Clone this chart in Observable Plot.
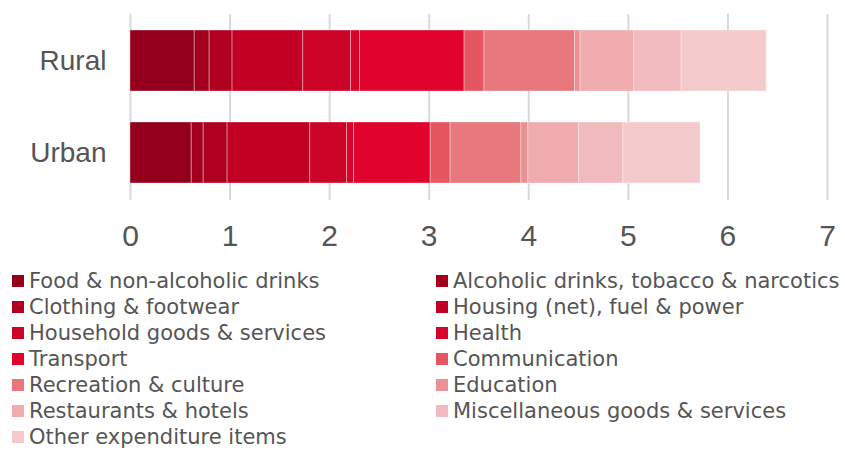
<!DOCTYPE html>
<html>
<head>
<meta charset="utf-8">
<script src="https://cdn.jsdelivr.net/npm/d3@7"></script>
<script src="https://cdn.jsdelivr.net/npm/@observablehq/plot@0.6"></script>
<style>
  html, body { margin: 0; padding: 0; background: #fff; }
  body { width: 845px; height: 450px; overflow: hidden; font-family: "Liberation Sans", Arial, sans-serif; }
  #legend { display: grid; grid-template-columns: 424px 421px; padding-top: 8px; }
  .item { display: flex; align-items: center; height: 26px; line-height: 24px; font-family: "DejaVu Sans", sans-serif; font-size: 21px; color: #555; white-space: nowrap; }
  .item .sw { width: 12px; height: 12px; margin-left: 12px; margin-right: 5px; flex: none; }
</style>
</head>
<body>
<div id="chart"></div>
<div id="legend"></div>
<script>
const areas = ["Rural", "Urban"];
const categories = [
  "Food & non-alcoholic drinks",
  "Alcoholic drinks, tobacco & narcotics",
  "Clothing & footwear",
  "Housing (net), fuel & power",
  "Household goods & services",
  "Health",
  "Transport",
  "Communication",
  "Recreation & culture",
  "Education",
  "Restaurants & hotels",
  "Miscellaneous goods & services",
  "Other expenditure items"
];
const ruralValues = [0.645, 0.15, 0.23, 0.71, 0.48, 0.09, 1.05, 0.20, 0.91, 0.055, 0.54, 0.475, 0.855];
const urbanValues = [0.615, 0.12, 0.24, 0.83, 0.37, 0.07, 0.77, 0.20, 0.71, 0.07, 0.51, 0.445, 0.775];
const colors = ["#94001b", "#a2001e", "#b0001f", "#c20023", "#cc0428", "#d7032a", "#e2032c",
                "#e55661", "#e9787d", "#eb9195", "#efabad", "#f1babe", "#f4cacc"];
const xTicks = [0, 1, 2, 3, 4, 5, 6, 7];

const data = [];
areas.forEach((a, ai) => {
  const vals = ai === 0 ? ruralValues : urbanValues;
  categories.forEach((c, ci) => data.push({area: a, category: c, value: vals[ci]}));
});

const chart = Plot.plot({
  width: 845,
  height: 260,
  marginLeft: 130,
  marginRight: 18,
  marginTop: 14,
  marginBottom: 60,
  style: {fontFamily: "'Liberation Sans', Arial, sans-serif", color: "#555", background: "#fff"},
  x: {domain: [0, 7], ticks: xTicks, tickSize: 0, tickPadding: 24, label: null},
  y: {domain: areas, paddingInner: 0.333, paddingOuter: 0.1667, tickSize: 0, tickPadding: 24, label: null},
  color: {domain: categories, range: colors},
  marks: [
    Plot.gridX(xTicks, {stroke: "#d9d9d9", strokeOpacity: 1, strokeWidth: 2}),
    Plot.barX(data, {x: "value", y: "area", fill: "category", stroke: "white", strokeOpacity: 0.35, strokeWidth: 1}),
    Plot.axisX(xTicks, {tickSize: 0, tickPadding: 24, fontSize: 30, fill: "#555", label: null}),
    Plot.axisY({tickSize: 0, tickPadding: 24, fontSize: 28, fill: "#555", label: null})
  ]
});
document.getElementById("chart").appendChild(chart);

const legend = document.getElementById("legend");
categories.forEach((c, i) => {
  const div = document.createElement("div");
  div.className = "item";
  const sw = document.createElement("span");
  sw.className = "sw";
  sw.style.background = colors[i];
  const t = document.createElement("span");
  t.textContent = c;
  div.appendChild(sw);
  div.appendChild(t);
  legend.appendChild(div);
});
</script>
</body>
</html>
